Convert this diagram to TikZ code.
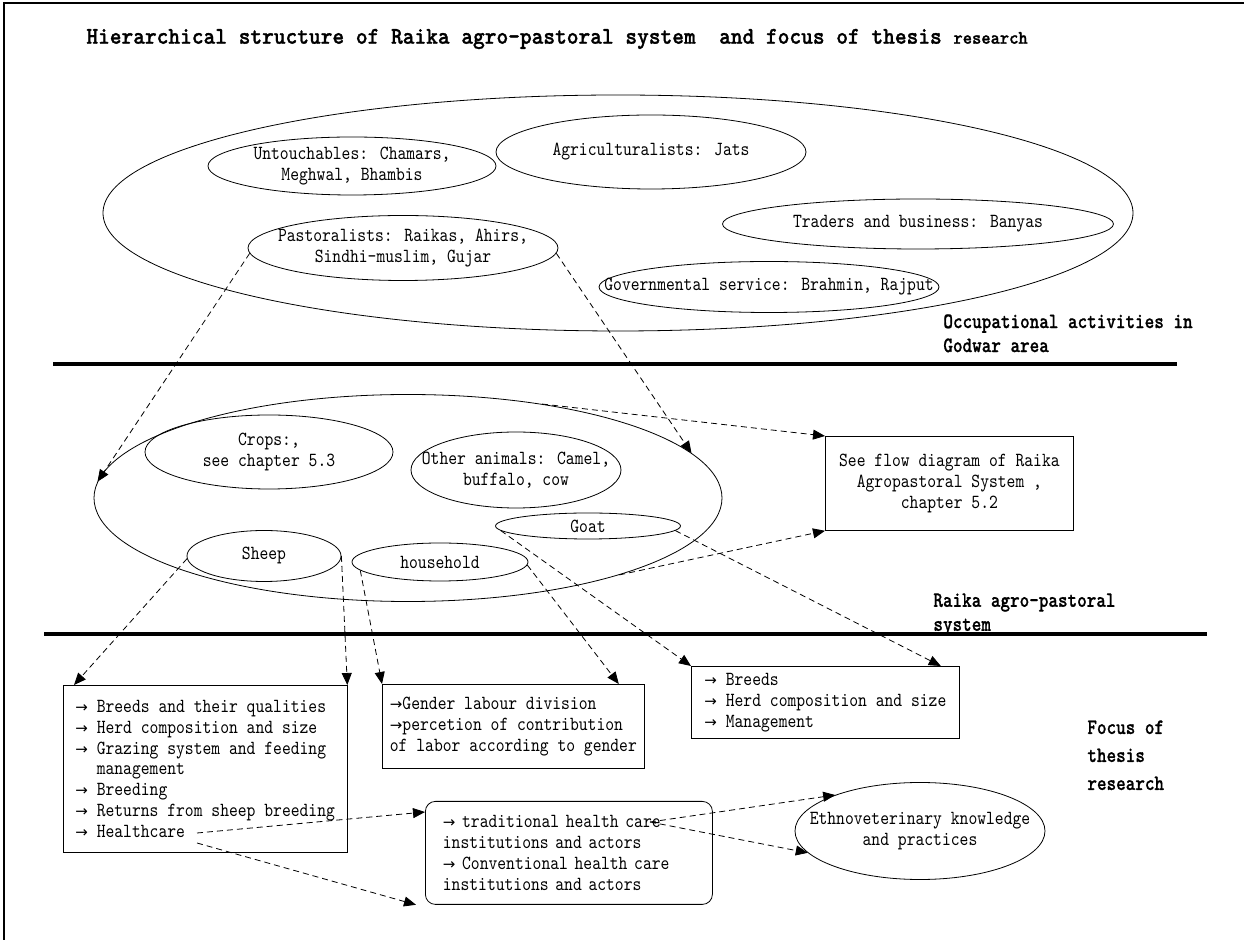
\documentclass[tikz,border=0pt]{standalone}
\usepackage{fontspec}
\setmainfont[FakeStretch=0.84]{lmmono10-regular.otf}
\newfontfamily\headfont[FakeStretch=0.93, FakeBold=1.2]{lmmonolt10-bold.otf}
\newfontfamily\lblfont[FakeStretch=0.83, FakeBold=0.8]{lmmonolt10-bold.otf}
\newfontfamily\arrfont{DejaVu Sans}
\newcommand\gto{{\arrfont\fontsize{7.5}{10}\selectfont →}}
\usetikzlibrary{arrows.meta,shapes.geometric,positioning}
\tikzset{
    grp/.style 2 args={ellipse, draw, thin, minimum width=#1, minimum height=#2, inner sep=0pt},
    txt/.style={align=center, font=\fontsize{10}{10.4}\selectfont},
    lst/.style={rectangle, draw, thin, anchor=north west, align=left, inner xsep=6pt,
                inner ysep=3pt, font=\fontsize{10}{10.4}\selectfont},
    lvl/.style={anchor=north west, align=left, inner sep=0pt,
                font=\lblfont\fontsize{11}{#1}\selectfont},
    dsh/.style={-{Triangle[length=6pt,width=5pt]}, thin, dash pattern=on 3pt off 2pt},
    sep/.style={line width=2pt},
}

\begin{document}
\begin{tikzpicture}[x=0.5pt, y=-0.5pt]
    \useasboundingbox (0,0) rectangle (1244,940);
    \draw[line width=1pt] (4,940) -- (4,3) -- (1244,3);

    \node[anchor=west, inner sep=0pt, font=\headfont\fontsize{12}{14}\selectfont] (title) at (86,39)
        {Hierarchical structure of Raika agro-pastoral system~ and focus of thesis {\fontsize{9.5}{10}\selectfont research}};

    % occupational activities
    \node[grp={515pt}{118pt}] (occ) at (618,213) {};
    \node[grp={144pt}{29pt}, label={[txt]center:{Untouchables: Chamars,\\Meghwal, Bhambis}}] (untch) at (352,166) {};
    \node[grp={155pt}{37pt}, label={[txt]center:{Agriculturalists: Jats}}] (agri) at (651,152) {};
    \node[grp={155pt}{32.5pt}, label={[txt]center:{Pastoralists: Raikas, Ahirs,\\Sindhi-muslim, Gujar}}] (pasto) at (403,248) {};
    \node[grp={195.5pt}{25pt}, label={[txt]center:{Traders and business: Banyas}}] (trade) at (918,224) {};
    \node[grp={170pt}{25.5pt}, label={[txt]center:{Governmental service: Brahmin, Rajput}}] (govt) at (769,287) {};
    \node[lvl=12pt] (occlbl) at (943,314) {Occupational activities in\\Godwar area};
    \draw[sep] (53,364) -- (1177,364);

    % agro-pastoral system
    \node[grp={314pt}{103.5pt}] (raika) at (408,498) {};
    \node[grp={124pt}{37pt}, label={[txt]center:{Crops:,\\see chapter 5.3}}] (crops) at (269,452) {};
    \node[grp={105pt}{38pt}, label={[txt]center:{Other animals: Camel,\\buffalo, cow}}] (other) at (516,470) {};
    \node[grp={92.5pt}{13pt}, label={[txt]center:{Goat}}] (goat) at (588,526) {};
    \node[grp={77pt}{25.5pt}, label={[txt]center:{Sheep}}] (sheep) at (264,556) {};
    \node[grp={88pt}{19pt}, label={[txt]center:{household}}] (hh) at (440,562) {};
    \node[lst, align=center, minimum width=124pt, minimum height=47pt] (flow) at (825,436)
        {See flow diagram of Raika\\Agropastoral System ,\\chapter 5.2};
    \node[lvl=12pt] (raikalbl) at (933,593) {Raika agro-pastoral\\system};
    \draw[sep] (44,634) -- (1207,634);

    % focus of thesis research
    \node[lst, minimum width=139.5pt, minimum height=83.5pt] (sbox) at (63,685)
        {\gto\ Breeds and their qualities\\\gto\ Herd composition and size\\\gto\ Grazing system and feeding\\
         \phantom{\gto\ }management\\\gto\ Breeding\\\gto\ Returns from sheep breeding\\\gto\ Healthcare};
    \node[lst, inner xsep=3pt, minimum width=131pt, minimum height=42pt] (gbox) at (382,684)
        {\gto Gender labour division\\\gto percetion of contribution\\of labor according to gender};
    \node[lst, minimum width=134pt, minimum height=36pt] (gtbox) at (691,666)
        {\gto\ Breeds\\\gto\ Herd composition and size\\\gto\ Management};
    \node[lvl=14pt] (focuslbl) at (1087,720) {Focus of\\thesis\\research};
    \node[lst, rounded corners=5pt, inner xsep=8.75pt, text width=126pt, minimum height=51.5pt] (hbox) at (425,801)
        {\gto\ traditional health care\\institutions and actors\\\gto\ Conventional health care\\institutions and actors};
    \node[grp={125pt}{48.5pt}, label={[txt]center:{Ethnoveterinary knowledge\\and practices}}] (ethno) at (920,831) {};

    \coordinate (hcare) at (197,833);
    \coordinate (hcare2) at (197,843);
    \coordinate (tradc) at (650,822);

    % connectors
    \draw[dsh] (pasto.182) -- (raika.177);
    \draw[dsh] (pasto.358) -- (raika.9);
    \draw[dsh] (raika.35) -- (flow.north west);
    \draw[dsh] (raika.-20) -- (flow.south west);
    \draw[dsh] (sheep.182) -- ([xshift=5.5pt]sbox.north west);
    \draw[dsh] (sheep.east) -- (sbox.north east);
    \draw[dsh] (hh.186) -- (gbox.north west);
    \draw[dsh] (hh.-2) -- ([xshift=-13pt]gbox.north east);
    \draw[dsh] (goat.183) -- (gtbox.north west);
    \draw[dsh] (goat.-3) -- ([xshift=-9.5pt]gtbox.north east);
    \draw[dsh] (hcare) -- ([yshift=-5.5pt]hbox.north west);
    \draw[dsh] (hcare2) -- ([xshift=-4.5pt]hbox.south west);
    \draw[dsh] (tradc) -- (ethno.157);
    \draw[dsh] (tradc) -- (ethno.191);
\end{tikzpicture}
\end{document}
